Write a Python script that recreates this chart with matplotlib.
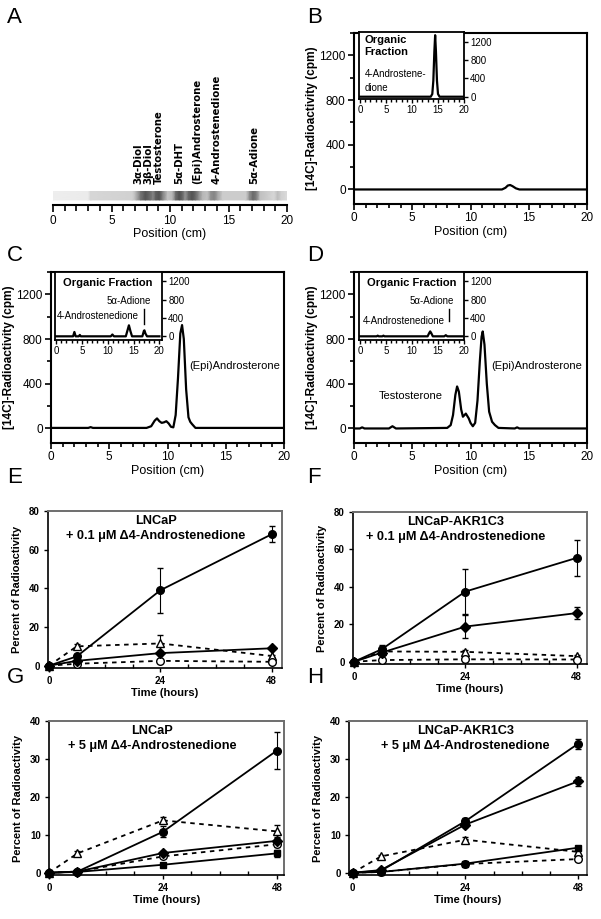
import matplotlib
matplotlib.use('Agg')
import matplotlib.pyplot as plt
import matplotlib.ticker as ticker
import numpy as np

plt.rcParams.update({
    'font.family': ['Liberation Sans', 'DejaVu Sans'],
    'font.size': 7,
    'axes.linewidth': 1.5,
})

# ── Panel A: TLC strip ─────────────────────────────────────────────────────
strip_pos = [0, 3.0, 3.2, 6.8, 7.1, 7.5, 7.9, 8.3, 8.55, 8.8, 9.1, 9.4, 9.8,
             10.2, 10.5, 10.8, 11.1, 11.3, 11.6, 11.9, 12.2, 12.5, 12.8, 13.2,
             13.5, 13.8, 14.1, 14.5, 16.5, 16.8, 17.1, 17.4, 17.7, 18.9, 19.2,
             19.5, 20]
strip_gray = [0.93, 0.92, 0.84, 0.82, 0.70, 0.45, 0.33, 0.42, 0.52, 0.37,
              0.33, 0.52, 0.76, 0.72, 0.42, 0.32, 0.42, 0.58, 0.40, 0.33,
              0.42, 0.58, 0.72, 0.76, 0.56, 0.52, 0.66, 0.80, 0.80, 0.56,
              0.42, 0.50, 0.75, 0.84, 0.74, 0.82, 0.86]
tlc_labels = ['3α-Diol', '3β-Diol', 'Testosterone', '5α-DHT',
              '(Epi)Androsterone', '4-Androstenedione', '5α-Adione']
tlc_label_pos = [7.3, 8.15, 9.05, 10.8, 12.3, 14.0, 17.2]

# ── Panels B–D: radiochromatograms ─────────────────────────────────────────
b_pos = [0, 12.7, 13.0, 13.2, 13.4, 13.6, 13.9, 14.2, 20]
b_cpm = [0, 0, 15, 35, 40, 30, 10, 0, 0]
b_in_pos = [0, 13.6, 13.9, 14.1, 14.3, 14.45, 14.6, 14.8, 15.0, 15.3, 20]
b_in_cpm = [0, 0, 60, 350, 1000, 1350, 1000, 350, 60, 0, 0]

c_pos = [0, 3.2, 3.4, 3.6, 8.2, 8.6, 8.9, 9.1, 9.3, 9.5, 9.7, 9.9, 10.1, 10.3,
         10.5, 10.7, 10.9, 11.1, 11.25, 11.4, 11.6, 11.8, 11.95, 12.1, 12.4,
         14.0, 20]
c_cpm = [5, 5, 12, 5, 5, 20, 70, 90, 65, 50, 55, 65, 45, 15, 10, 120, 450, 850,
         925, 800, 350, 100, 60, 40, 5, 5, 5]
c_in_pos = [0, 3.3, 3.55, 3.8, 4.4, 4.6, 4.8, 10.6, 10.9, 11.2, 13.5, 13.8,
            14.1, 14.4, 14.7, 16.7, 17.0, 17.1, 17.3, 17.6, 20]
c_in_cpm = [0, 0, 95, 0, 0, 30, 0, 0, 40, 0, 0, 120, 240, 110, 0, 0, 120, 130,
            60, 0, 0]

d_pos = [0, 0.5, 0.7, 0.9, 3.0, 3.3, 3.6, 8.0, 8.3, 8.5, 8.7, 8.85, 9.0, 9.2,
         9.35, 9.6, 9.85, 10.0, 10.2, 10.4, 10.6, 10.8, 10.95, 11.05, 11.2,
         11.4, 11.6, 11.85, 12.1, 12.4, 13.8, 14.0, 14.2, 20]
d_cpm = [0, 0, 10, 0, 0, 20, 0, 5, 30, 120, 300, 376, 330, 170, 105, 133, 90,
         50, 20, 50, 250, 600, 820, 868, 750, 400, 150, 60, 30, 5, 0, 10, 0, 0]
d_in_pos = [0, 3.2, 3.4, 3.6, 4.3, 4.5, 4.7, 13.0, 13.3, 13.5, 13.7, 14.0,
            16.2, 16.5, 16.8, 20]
d_in_cpm = [0, 0, 15, 0, 0, 15, 0, 0, 70, 107, 70, 0, 0, 25, 0, 0]

# ── Panels E–H: time courses (% of radioactivity) ──────────────────────────
hours = [0, 6, 24, 48]

e_circle = [0, 4.8, 39, 68];      e_circle_err = [0, 1.0, 11.5, 4.0]
e_diamond = [0, 2.5, 6.5, 9.0];   e_diamond_err = [0, 0.5, 1.0, 0.5]
e_tri = [0, 10.0, 11.5, 5.0];     e_tri_err = [0, 1.0, 4.5, 0.5]
e_open = [0, 1.0, 2.5, 2.0];      e_open_err = [0, 0.3, 0.5, 0.3]

f_circle = [0, 6.7, 37.5, 55.5];  f_circle_err = [0, 2.5, 12.0, 9.5]
f_diamond = [0, 4.9, 18.8, 26.0]; f_diamond_err = [0, 2.0, 6.0, 3.0]
f_tri = [0, 5.5, 5.3, 3.0];       f_tri_err = [0, 0.5, 1.0, 0.5]
f_open = [0, 0.9, 1.3, 1.2];      f_open_err = [0, 0.2, 0.3, 0.3]

g_circle = [0, 0.3, 10.8, 32.2];  g_circle_err = [0, 0.3, 1.5, 4.8]
g_tri = [0, 5.1, 13.8, 10.9];     g_tri_err = [0, 0.5, 0.8, 1.6]
g_diamond = [0, 0.3, 5.2, 8.4];   g_diamond_err = [0, 0.2, 0.6, 0.8]
g_open = [0, 0.3, 4.3, 7.5];      g_open_err = [0, 0.2, 0.5, 0.8]
g_square = [0, 0.2, 2.1, 5.1];    g_square_err = [0, 0.1, 0.4, 1.0]

h_circle = [0, 0.5, 13.6, 34.0];  h_circle_err = [0, 0.2, 0.8, 1.3]
h_diamond = [0, 0.7, 12.7, 24.1]; h_diamond_err = [0, 0.2, 0.6, 1.2]
h_tri = [0, 4.3, 8.7, 5.5];       h_tri_err = [0, 0.3, 0.6, 0.5]
h_square = [0, 0.2, 2.4, 6.6];    h_square_err = [0, 0.1, 0.3, 0.4]
h_open = [0, 0.2, 2.3, 3.6];      h_open_err = [0, 0.1, 0.3, 0.4]

W, H = 601, 919
fig = plt.figure(figsize=(W / 100, H / 100), dpi=100)


def rect(left, top, right, bottom):
    return [left / W, 1 - bottom / H, (right - left) / W, (bottom - top) / H]


# panel letters
for letter, x, y in [('A', 7, 7), ('B', 307, 7), ('C', 7, 245), ('D', 307, 245),
                     ('E', 7, 467), ('F', 307, 467), ('G', 7, 667), ('H', 307, 667)]:
    fig.text(x / W, 1 - y / H, letter, fontsize=16, va='top', ha='left')

# ── A ──
axA = fig.add_axes(rect(53, 191, 287, 205))
X = np.array([strip_pos, strip_pos])
Y = np.array([[0.36] * len(strip_pos), [1.0] * len(strip_pos)])
C = np.array([strip_gray, strip_gray])
axA.pcolormesh(X, Y, C, shading='gouraud', cmap='gray', vmin=0, vmax=1)
axA.set_xlim(0, 20)
axA.set_ylim(0, 1)
for s in ['top', 'left', 'right']:
    axA.spines[s].set_visible(False)
axA.set_yticks([])
axA.xaxis.set_major_locator(ticker.MultipleLocator(5))
axA.xaxis.set_minor_locator(ticker.MultipleLocator(1))
axA.tick_params(axis='x', which='major', direction='out', length=5, width=1.2,
                labelsize=8.5, pad=2)
axA.tick_params(axis='x', which='minor', direction='out', length=4, width=1.2)
axA.set_xlabel('Position (cm)', fontsize=9, labelpad=1)
for lab, p in zip(tlc_labels, tlc_label_pos):
    axA.text(p, 1.5, lab, rotation=90, ha='center', va='bottom', fontsize=7.3,
             fontweight='bold', family=['DejaVu Sans'],
             transform=axA.get_xaxis_transform(), clip_on=False)


def chrom_axes(r):
    ax = fig.add_axes(r)
    ax.set_xlim(0, 20)
    ax.set_ylim(-130, 1400)
    ax.xaxis.set_major_locator(ticker.MultipleLocator(5))
    ax.xaxis.set_minor_locator(ticker.MultipleLocator(1))
    ax.set_yticks([0, 400, 800, 1200])
    ax.yaxis.set_minor_locator(ticker.MultipleLocator(200))
    ax.tick_params(which='major', direction='out', length=4, width=1.2,
                   labelsize=8.5, pad=2)
    ax.tick_params(which='minor', direction='out', length=3, width=1.2)
    ax.set_xlabel('Position (cm)', fontsize=9, labelpad=1)
    ax.set_ylabel('[14C]-Radioactivity (cpm)', fontsize=8.6, fontweight='bold',
                  labelpad=1)
    return ax


def inset_axes(r, xlim, ylim):
    ax = fig.add_axes(r)
    ax.set_xlim(*xlim)
    ax.set_ylim(*ylim)
    ax.set_facecolor('white')
    for s in ax.spines.values():
        s.set_linewidth(1.3)
    ax.xaxis.set_major_locator(ticker.MultipleLocator(5))
    ax.xaxis.set_minor_locator(ticker.MultipleLocator(1))
    ax.set_yticks([0, 400, 800, 1200])
    ax.yaxis.tick_right()
    ax.tick_params(which='major', direction='out', length=3, width=1,
                   labelsize=7, pad=1.5)
    ax.tick_params(which='minor', direction='out', length=2, width=1)
    return ax


# ── B ──
axB = chrom_axes(rect(354, 33, 587, 204))
axB.plot(b_pos, b_cpm, color='black', lw=1.6)
axBi = inset_axes(rect(359, 32, 464, 99), (-0.2, 20), (-50, 1420))
axBi.plot(b_in_pos, b_in_cpm, color='black', lw=1.6)
axBi.text(0.9, 1350, 'Organic\nFraction', fontsize=8, fontweight='bold',
          va='top', ha='left', linespacing=1.25)
axBi.text(0.9, 600, '4-Androstene-\ndione', fontsize=7, va='top', ha='left',
          linespacing=1.4)

# ── C ──
axC = chrom_axes(rect(51, 272, 284, 443))
axC.plot(c_pos, c_cpm, color='black', lw=1.6)
axC.text(15.8, 560, '(Epi)Androsterone', fontsize=8, ha='center', va='center')
axCi = inset_axes(rect(55, 272, 162, 340), (-0.2, 20.5), (-80, 1400))
axCi.plot(c_in_pos, c_in_cpm, color='black', lw=1.6)
axCi.text(10.1, 1160, 'Organic Fraction', fontsize=8, fontweight='bold',
          ha='center', va='center')
axCi.text(18.3, 760, '5α-Adione', fontsize=7, ha='right', va='center')
axCi.text(0.1, 434, '4-Androstenedione', fontsize=7, ha='left', va='center')
axCi.plot([17.1, 17.1], [275, 600], color='black', lw=1)

# ── D ──
axD = chrom_axes(rect(354, 272, 587, 443))
axD.plot(d_pos, d_cpm, color='black', lw=1.6)
axD.text(15.7, 557, '(Epi)Androsterone', fontsize=8, ha='center', va='center')
axD.text(4.9, 287, 'Testosterone', fontsize=8, ha='center', va='center')
axDi = inset_axes(rect(359, 272, 464, 340), (-0.2, 20), (-80, 1400))
axDi.plot(d_in_pos, d_in_cpm, color='black', lw=1.6)
axDi.text(9.9, 1160, 'Organic Fraction', fontsize=8, fontweight='bold',
          ha='center', va='center')
axDi.text(18.0, 760, '5α-Adione', fontsize=7, ha='right', va='center')
axDi.text(0.6, 330, '4-Androstenedione', fontsize=7, ha='left', va='center')
axDi.plot([17.1, 17.1], [330, 600], color='black', lw=1)

# ── E–H ──
DASH = (0, (2.5, 2.5))
STYLES = {
    'circle': dict(marker='o', mfc='black', ls='-', ms=5.5),
    'diamond': dict(marker='D', mfc='black', ls='-', ms=4.8),
    'tri': dict(marker='^', mfc='white', ls=DASH, ms=6),
    'open': dict(marker='o', mfc='white', ls=DASH, ms=5.5),
    'square': dict(marker='s', mfc='black', ls='-', ms=4.5),
}


def time_axes(r, ymax, ystep, xlim, title, tx):
    ax = fig.add_axes(r)
    ax.set_xlim(*xlim)
    ax.set_ylim(-ymax * 0.015, ymax)
    ax.set_xticks([0, 24, 48])
    ax.xaxis.set_minor_locator(ticker.MultipleLocator(6))
    ax.yaxis.set_major_locator(ticker.MultipleLocator(ystep))
    for s in ['top', 'right']:
        ax.spines[s].set_color('#6e6e6e')
        ax.spines[s].set_linewidth(1.4)
    for s in ['left', 'bottom']:
        ax.spines[s].set_linewidth(1.2)
    ax.tick_params(which='major', direction='out', length=3, width=1,
                   labelsize=7, pad=3)
    ax.tick_params(axis='x', which='minor', direction='in', length=3, width=1)
    for lab in ax.get_xticklabels() + ax.get_yticklabels():
        lab.set_fontweight('bold')
    ax.set_xlabel('Time (hours)', fontsize=8, fontweight='bold', labelpad=1)
    ax.set_ylabel('Percent of Radioactivity', fontsize=8, fontweight='bold',
                  labelpad=5)
    ax.text(tx, 0.975, title, transform=ax.transAxes, ha='center', va='top',
            fontsize=9.2, fontweight='bold', linespacing=1.35)
    return ax


def series(ax, y, err, kind):
    st = STYLES[kind]
    ax.errorbar(hours, y, yerr=err, color='black', lw=1.3, marker=st['marker'],
                ms=st['ms'], mfc=st['mfc'], mec='black', mew=1.0, ls=st['ls'],
                ecolor='black', elinewidth=0.8, capsize=2, capthick=0.8,
                clip_on=False, zorder=3)


axE = time_axes(rect(48, 511, 282, 668), 80, 20, (-0.2, 50.2),
                'LNCaP\n+ 0.1 μM Δ4-Androstenedione', 0.46)
series(axE, e_tri, e_tri_err, 'tri')
series(axE, e_open, e_open_err, 'open')
series(axE, e_diamond, e_diamond_err, 'diamond')
series(axE, e_circle, e_circle_err, 'circle')

axF = time_axes(rect(353, 512, 587, 664), 80, 20, (-0.2, 50.2),
                'LNCaP-AKR1C3\n+ 0.1 μM Δ4-Androstenedione', 0.44)
series(axF, f_tri, f_tri_err, 'tri')
series(axF, f_open, f_open_err, 'open')
series(axF, f_diamond, f_diamond_err, 'diamond')
series(axF, f_circle, f_circle_err, 'circle')

axG = time_axes(rect(49, 721, 284, 875), 40, 10, (0, 49.5),
                'LNCaP\n+ 5 μM Δ4-Androstenedione', 0.44)
series(axG, g_tri, g_tri_err, 'tri')
series(axG, g_open, g_open_err, 'open')
series(axG, g_square, g_square_err, 'square')
series(axG, g_diamond, g_diamond_err, 'diamond')
series(axG, g_circle, g_circle_err, 'circle')

axH = time_axes(rect(349, 721, 587, 875), 40, 10, (-0.8, 49.9),
                'LNCaP-AKR1C3\n+ 5 μM Δ4-Androstenedione', 0.49)
series(axH, h_tri, h_tri_err, 'tri')
series(axH, h_open, h_open_err, 'open')
series(axH, h_square, h_square_err, 'square')
series(axH, h_diamond, h_diamond_err, 'diamond')
series(axH, h_circle, h_circle_err, 'circle')

fig.savefig('out.png', dpi=100)
